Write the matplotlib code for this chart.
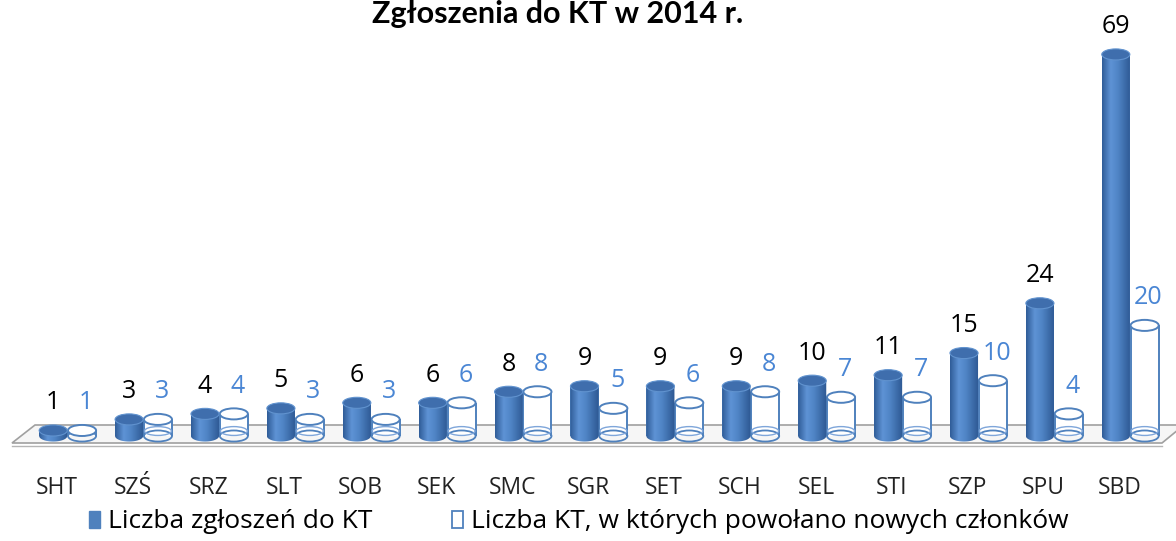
import numpy as np
import matplotlib.pyplot as plt
from matplotlib.patches import Ellipse, Polygon, Patch
from matplotlib.colors import LinearSegmentedColormap

plt.rcParams['font.family'] = ['Open Sans', 'DejaVu Sans']

categories = ['SHT', 'SZŚ', 'SRZ', 'SLT', 'SOB', 'SEK', 'SMC', 'SGR',
              'SET', 'SCH', 'SEL', 'STI', 'SZP', 'SPU', 'SBD']
zgloszenia = [1, 3, 4, 5, 6, 6, 8, 9, 9, 9, 10, 11, 15, 24, 69]
powolano = [1, 3, 4, 3, 3, 6, 8, 5, 6, 8, 7, 7, 10, 4, 20]
legend_labels = ['Liczba zgłoszeń do KT', 'Liczba KT, w których powołano nowych członków']
title = 'Zgłoszenia do KT w 2014 r.'

BLUE = '#4F81BD'
BLUE_TXT = '#4A86D4'

# pixel -> data mapping (axes cover the whole figure)
W, H = 1176, 541
PX_X, PX_Y = 75.9, 5.53
X0, Y0 = 57, 436
xmin = -X0 / PX_X
xmax = xmin + W / PX_X
ymin = -(H - Y0) / PX_Y
ymax = ymin + H / PX_Y


def px(x, y):
    return (xmin + x / PX_X, ymin + (H - y) / PX_Y)


fig = plt.figure(figsize=(W / 100, H / 100), dpi=100)
ax = fig.add_axes([0, 0, 1, 1])
ax.axis('off')

bw, off1, off2, eh = 0.37, -0.05, 0.33, 2.0
x = np.arange(len(categories))

# floor
floor = Polygon([px(12, 443), px(1162, 443), px(1184, 425), px(35, 425)],
                closed=True, fc='#F6F6F6', ec='#A0A0A0', lw=1.2, zorder=0)
ax.add_patch(floor)
fx = [px(12, 446)[0], px(1162, 446)[0]]
ax.plot(fx, [px(0, 446)[1]] * 2, color='#B5B5B5', lw=1.0, zorder=0)

cmap = LinearSegmentedColormap.from_list(
    'cyl', [(0, '#305D98'), (0.3, '#5E93D5'), (0.55, '#5085C6'), (1, '#2D5893')])
grad = np.linspace(0, 1, 64).reshape(1, -1)
t = np.linspace(np.pi, 2 * np.pi, 40)

# hollow series
bars2 = ax.bar(x + off2, powolano, width=bw, color='white', linewidth=0, zorder=2)
for b in bars2:
    x0, w, h = b.get_x(), b.get_width(), b.get_height()
    xc = x0 + w / 2
    ax.vlines([x0, x0 + w], 0, h, color=BLUE, lw=1.4, zorder=2.1)
    ax.add_patch(Ellipse((xc, 0), w, eh, fc='none', ec=BLUE, lw=1.3, zorder=2.1))
    ax.add_patch(Ellipse((xc, eh * 0.45), w * 0.96, eh * 0.8, fc='none', ec='#7FA6DA',
                         lw=1.0, zorder=2.1))
    ax.add_patch(Ellipse((xc, h), w, eh, fc='white', ec=BLUE, lw=1.4, zorder=2.2))

# filled series
bars1 = ax.bar(x + off1, zgloszenia, width=bw, color=BLUE, linewidth=0, zorder=3)
for b in bars1:
    x0, w, h = b.get_x(), b.get_width(), b.get_height()
    xc = x0 + w / 2
    pts = [(x0, h), (x0, 0)] + list(zip(xc + w / 2 * np.cos(t), eh / 2 * np.sin(t))) \
        + [(x0 + w, 0), (x0 + w, h)]
    body = Polygon(pts, closed=True, fc='none', ec='none', zorder=3)
    ax.add_patch(body)
    im = ax.imshow(grad, cmap=cmap, extent=(x0, x0 + w, -eh / 2, h),
                   aspect='auto', zorder=3.1)
    im.set_clip_path(body)
    ax.add_patch(Ellipse((xc, h), w, eh, fc='#3F6EAD', ec='#6193CF', lw=0.8, zorder=3.2))

# value labels
for i, v in enumerate(zgloszenia):
    ax.text(i + off1, v + 5, str(v), ha='center', va='center', fontsize=18, color='black')
for i, v in enumerate(powolano):
    ax.text(i + off2 + 0.05, v + 5, str(v), ha='center', va='center', fontsize=18,
            color=BLUE_TXT)

# category labels
ylab = px(0, 488)[1]
for i, c in enumerate(categories):
    ax.text(i, ylab, c, ha='center', va='center', fontsize=16.5, color='#222222')

ax.set_xlim(xmin, xmax)
ax.set_ylim(ymin, ymax)

fig.text(558 / W, 1 - 23 / H, title, ha='center', va='baseline',
         fontsize=22, fontweight='bold', family=['Lato', 'DejaVu Sans'])

handles = [Patch(fc=BLUE, ec=BLUE), Patch(fc='white', ec=BLUE, lw=1.3)]
fig.legend(handles, legend_labels, loc='center', bbox_to_anchor=(0.492, 1 - 522 / H),
           ncol=2, frameon=False, fontsize=19, handlelength=0.42, handleheight=0.62,
           handletextpad=0.3, columnspacing=3.0)

fig.savefig('out.png', dpi=100)
